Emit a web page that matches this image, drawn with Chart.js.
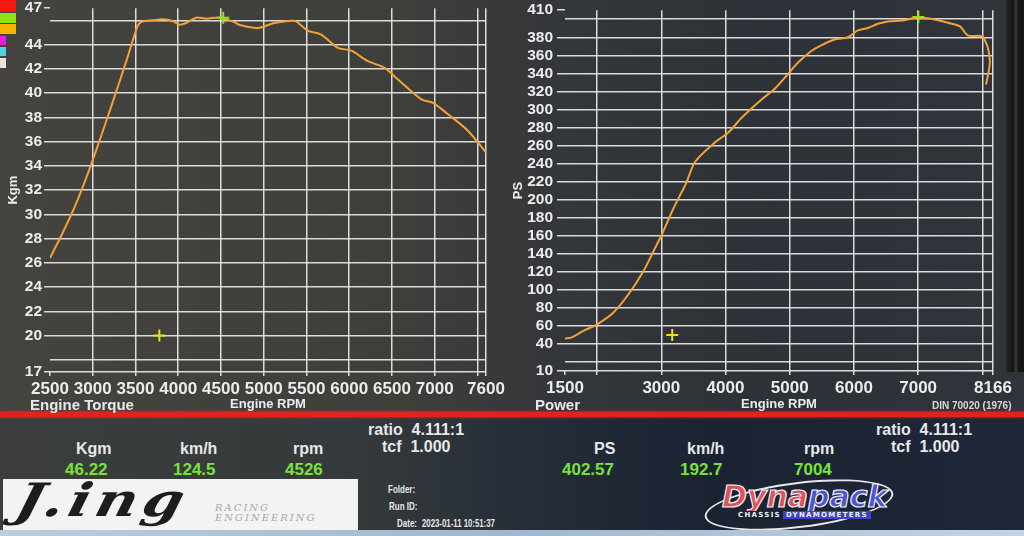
<!DOCTYPE html>
<html>
<head>
<meta charset="utf-8">
<script src="https://cdn.jsdelivr.net/npm/chart.js@4"></script>
<style>
  body { margin: 0; width: 1024px; height: 536px; overflow: hidden; position: relative; background: #2c3036;
         font-family: "Liberation Sans", Arial, sans-serif; }
  #top { position: absolute; left: 0; top: 0; width: 1024px; height: 413px;
         background: linear-gradient(90deg, #44433f 0%, #3e3e3b 40%, #33363a 55%, #2d3238 75%, #30343a 97%); }
  #bezel { position: absolute; left: 1006px; top: 0; width: 18px; height: 372px;
           background: linear-gradient(90deg, #262626, #141414 40%, #3a3a3a 55%, #161616 70%); }
  #bottom { position: absolute; left: 0; top: 413px; width: 1024px; height: 123px;
            background: linear-gradient(90deg, #3b3e3d 0%, #34393b 35%, #232b38 55%, #1b2333 70%, #1f2738 100%); }
  #redline { position: absolute; left: 0; top: 412px; width: 1024px; height: 5px; background: #e4221c;
             box-shadow: 0 0 3px #ff3a30; }
  #taskbar { position: absolute; left: 0; top: 530px; width: 1024px; height: 6px;
             background: linear-gradient(90deg, #b9cde0, #9fb8d0 50%, #c3d3e3); }
  canvas { position: absolute; top: 0; }
  .t { position: absolute; color: #e8e8e8; font-weight: bold; line-height: 1; white-space: nowrap; }
  .v { position: absolute; color: #79e23a; font-weight: bold; font-size: 17px; line-height: 1; white-space: nowrap; }
  .sq { position: absolute; left: 0; }
  #logo { position: absolute; left: 3px; top: 479px; width: 355px; height: 52px; background: #f3f3f1; overflow: hidden; }
  #dyna { position: absolute; left: 700px; top: 476px; width: 200px; height: 54px; }
</style>
</head>
<body>
<div id="top"></div>
<div id="bottom"></div>
<div id="redline"></div>
<div id="bezel"></div>

<!-- trace colour keys -->
<div class="sq" style="top:0;width:16px;height:12px;background:#f4180e"></div>
<div class="sq" style="top:13px;width:16px;height:10px;background:#8ee214"></div>
<div class="sq" style="top:24px;width:16px;height:10px;background:#f6b400"></div>
<div class="sq" style="top:36px;width:6px;height:9px;background:#e21ee0"></div>
<div class="sq" style="top:47px;width:6px;height:9px;background:#4fd2e2"></div>
<div class="sq" style="top:58px;width:6px;height:10px;background:#ebe3d3"></div>

<canvas id="torqueChart" width="512" height="412" style="left:0"></canvas>
<canvas id="powerChart" width="512" height="412" style="left:512px"></canvas>

<div class="t" style="left:30px;top:397px;font-size:15px">Engine Torque</div>
<div class="t" style="left:535px;top:397px;font-size:15px">Power</div>
<div class="t" style="left:932px;top:401px;font-size:10px;color:#d8d8d8">DIN 70020 (1976)</div>

<!-- readouts -->
<div class="t" style="left:368px;top:422px;font-size:16px">ratio&nbsp; 4.111:1</div>
<div class="t" style="left:382px;top:439px;font-size:16px">tcf&nbsp; 1.000</div>
<div class="t" style="left:76px;top:441px;font-size:16px">Kgm</div>
<div class="t" style="left:180px;top:441px;font-size:16px">km/h</div>
<div class="t" style="left:293px;top:441px;font-size:16px">rpm</div>
<div class="v" style="left:65px;top:461px">46.22</div>
<div class="v" style="left:173px;top:461px">124.5</div>
<div class="v" style="left:285px;top:461px">4526</div>

<div class="t" style="left:876px;top:422px;font-size:16px">ratio&nbsp; 4.111:1</div>
<div class="t" style="left:891px;top:439px;font-size:16px">tcf&nbsp; 1.000</div>
<div class="t" style="left:594px;top:441px;font-size:16px">PS</div>
<div class="t" style="left:687px;top:441px;font-size:16px">km/h</div>
<div class="t" style="left:804px;top:441px;font-size:16px">rpm</div>
<div class="v" style="left:562px;top:461px">402.57</div>
<div class="v" style="left:680px;top:461px">192.7</div>
<div class="v" style="left:794px;top:461px">7004</div>

<!-- shop logo -->
<div id="logo">
  <div style="position:absolute;left:14px;top:-2px;font:italic bold 46px 'DejaVu Serif',serif;color:#1d1d1d;letter-spacing:4px;transform:skewX(-14deg) scaleX(1.25);transform-origin:left;line-height:1">J.ing</div>
  <div style="position:absolute;left:212px;top:24px;font:italic 10px 'DejaVu Serif',serif;color:#a8a8a8;letter-spacing:2px;line-height:10px">RACING<br>ENGINEERING</div>
</div>

<!-- run info -->
<div class="t" style="left:388px;top:485px;font-size:10px;transform:scaleX(0.8);transform-origin:left">Folder:</div>
<div class="t" style="left:389px;top:502px;font-size:10px;transform:scaleX(0.8);transform-origin:left">Run ID:</div>
<div class="t" style="left:397px;top:519px;font-size:10px;transform:scaleX(0.8);transform-origin:left">Date:</div>
<div class="t" style="left:422px;top:519px;font-size:10px;transform:scaleX(0.78);transform-origin:left">2023-01-11 10:51:37</div>

<!-- dyno maker logo -->
<div id="dyna">
  <div style="position:absolute;left:4px;top:6px;width:186px;height:42px;border:2px solid #e8e8e8;border-radius:50%;transform:rotate(-7deg)"></div>
  <div style="position:absolute;left:22px;top:6px;font:italic 900 30px 'DejaVu Sans',sans-serif;-webkit-text-stroke:1.2px #f2f2f2;line-height:1">
    <span style="color:#e0505e">Dyna</span><span style="color:#4b52d6">pack</span></div>
  <div style="position:absolute;left:36px;top:35px;font:bold 7px 'DejaVu Sans',sans-serif;color:#f0f0f0;letter-spacing:1.3px;line-height:9px">
    <span style="background:#1b2333;padding:0 2px">CHASSIS</span><span style="background:#3d43c4;padding:0 3px">DYNAMOMETERS</span></div>
</div>

<div id="taskbar"></div>

<script>
// Torque trace (rpm, Kgm)
const torqueRpm = [2500, 2650, 2800, 2950, 3100, 3250, 3400, 3480, 3530, 3580, 3700, 3818, 3935,
    4014, 4092, 4210, 4327, 4484, 4640, 4734, 4930, 5125, 5320, 5379, 5516, 5672, 5867, 6023, 6219, 6414,
    6570, 6844, 6980, 7156, 7391, 7600];
const torqueKgm = [26.4, 28.5, 30.8, 33.5, 36.5, 39.6, 42.8, 44.6, 45.6, 45.9, 46.0, 46.08, 45.95,
    45.64, 45.78, 46.22, 46.14, 46.22, 45.9, 45.59, 45.37, 45.78, 45.97, 45.92, 45.15, 44.82, 43.73, 43.5, 42.63, 42.08,
    41.12, 39.48, 39.2, 38.25, 36.88, 35.1];

// Power trace (rpm, PS) - the end hooks back as the run stops
const powerRpm = [1500, 1605, 1786, 2003, 2251, 2483, 2716, 2922, 3000, 3181, 3310, 3388, 3527, 3837, 4044,
    4251, 4561, 4767, 4974, 5130, 5337, 5466, 5699, 5907, 6062, 6218, 6373, 6528, 6742, 6995, 7242, 7450,
    7652, 7773, 8000, 8056, 8091, 8117, 8095, 8056];
const powerPs = [46, 47.3, 54.5, 61.8, 74.5, 94.5, 120, 149, 160, 189, 207.3, 218.2, 242, 263.5, 274.4,
    290.7, 311, 322.9, 339.3, 352, 364.7, 370.2, 377.5, 380, 387.6, 390.2, 394.9, 397.5, 398.5, 401.8, 400, 396.3,
    392, 382, 381, 374, 367, 353, 340.4, 327.6];

// Cursor / peak markers [rpm, value]
const torqueCursor = [3779, 20];
const torquePeak = [4526, 46.22];
const powerCursor = [3170, 50];
const powerPeak = [7004, 402.57];

// Axis ticks
const torqueXTicks = [2500, 3000, 3500, 4000, 4500, 5000, 5500, 6000, 6500, 7000, 7500, 7600];
const torqueYTicks = [17, 18, 20, 22, 24, 26, 28, 30, 32, 34, 36, 38, 40, 42, 44, 46, 47];
const powerXTicks = [1500, 2000, 3000, 4000, 5000, 6000, 7000, 8000, 8166];
const powerYTicks = [10, 20, 40, 60, 80, 100, 120, 140, 160, 180, 200, 220, 240, 260, 280, 300, 320, 340,
    360, 380, 400, 410];

const gridC = 'rgba(232,232,232,0.92)';
const textC = '#ececec';

function dynoChart(canvasId, o) {
    const xMin = o.xTicks[0], xMax = o.xTicks[o.xTicks.length - 1];
    const yMin = o.yTicks[0], yMax = o.yTicks[o.yTicks.length - 1];
    return new Chart(document.getElementById(canvasId), {
        type: 'scatter',
        data: {
            datasets: [
                { data: [{ x: o.peak[0], y: o.peak[1] }], pointStyle: 'cross', pointRadius: 6,
                  borderColor: '#96e21e', borderWidth: 2 },
                { data: [{ x: o.cursor[0], y: o.cursor[1] }], pointStyle: 'cross', pointRadius: 6,
                  borderColor: '#ecdf1c', borderWidth: 2 },
                { data: o.xs.map((x, i) => ({ x: x, y: o.ys[i] })), showLine: true, borderColor: '#f4a236',
                  borderWidth: 2, pointRadius: 0, tension: 0.3 }
            ]
        },
        options: {
            responsive: false,
            animation: false,
            layout: { padding: o.padding },
            plugins: { legend: { display: false }, tooltip: { enabled: false } },
            scales: {
                x: {
                    type: 'linear', min: xMin, max: xMax,
                    afterBuildTicks: s => { s.ticks = o.xTicks.map(v => ({ value: v })); },
                    afterFit: s => { s.height = o.xHeight; },
                    border: { display: false },
                    grid: {
                        color: c => (c.tick && c.tick.value === xMin) ? 'transparent' : gridC,
                        tickColor: gridC, lineWidth: 1.5, tickLength: 4
                    },
                    ticks: {
                        autoSkip: false, maxRotation: 0, padding: 3, color: textC,
                        font: { family: 'Liberation Sans', weight: 'bold', size: 17 },
                        callback: v => o.xHide.includes(v) ? '' : String(v)
                    },
                    title: { display: true, text: 'Engine RPM', color: textC, padding: 0,
                             font: { family: 'Liberation Sans', weight: 'bold', size: 13, lineHeight: 1.2 } }
                },
                y: {
                    type: 'linear', min: yMin, max: yMax,
                    afterBuildTicks: s => { s.ticks = o.yTicks.map(v => ({ value: v })); },
                    afterFit: s => { s.width = o.yWidth; },
                    border: { display: false },
                    grid: {
                        color: c => (c.tick && c.tick.value === yMax) ? 'transparent' : gridC,
                        tickColor: c => (c.tick && o.yHide.includes(c.tick.value)) ? 'transparent' : gridC,
                        lineWidth: 1.5, tickLength: o.yTickLen
                    },
                    ticks: {
                        autoSkip: false, padding: o.yPad, color: textC,
                        font: { family: 'Liberation Sans', weight: 'bold', size: 15.5, lineHeight: 0.8 },
                        callback: v => o.yHide.includes(v) ? '' : String(v)
                    },
                    title: { display: true, text: o.yTitle, color: textC, padding: o.yTitlePad,
                             font: { family: 'Liberation Sans', weight: 'bold', size: 13, lineHeight: 1 } }
                }
            }
        }
    });
}

// Engine torque
dynoChart('torqueChart', {
    xs: torqueRpm, ys: torqueKgm, cursor: torqueCursor, peak: torquePeak,
    xTicks: torqueXTicks, yTicks: torqueYTicks, xHide: [7500], yHide: [18, 46],
    yTitle: 'Kgm', yTitlePad: { top: 7, bottom: 0 },
    padding: { top: 8, right: 26, bottom: 0, left: 0 },
    xHeight: 40, yWidth: 50, yTickLen: 6, yPad: 2
});

// Power
dynoChart('powerChart', {
    xs: powerRpm, ys: powerPs, cursor: powerCursor, peak: powerPeak,
    xTicks: powerXTicks, yTicks: powerYTicks, xHide: [2000, 8000], yHide: [20, 400],
    yTitle: 'PS', yTitlePad: { top: 0, bottom: 0 },
    padding: { top: 6, right: 31, bottom: 0, left: 0 },
    xHeight: 41, yWidth: 53, yTickLen: 8, yPad: 4
});
</script>
</body>
</html>
